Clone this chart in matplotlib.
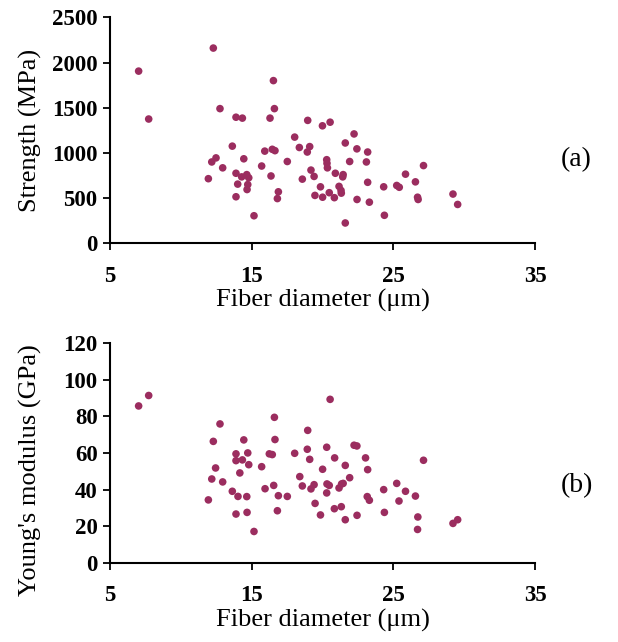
import matplotlib
matplotlib.use('Agg')
import matplotlib.pyplot as plt

plt.rcParams['font.family'] = ['Liberation Serif', 'DejaVu Serif']

# panel (a): fiber diameter (um) vs strength (MPa)
diam_a = [12.29, 7.02, 7.73, 16.53, 12.76, 16.6, 13.89, 14.34, 16.29, 13.63,
          15.92, 16.45, 16.64, 17.51, 12.48, 12.18, 14.44, 12.95, 15.7, 11.94,
          13.89, 16.36, 14.29, 14.65, 14.79, 14.01, 14.72, 14.67, 16.88, 13.89,
          16.81, 15.16,
          18.95, 19.99, 20.53, 18.03, 22.22, 18.36, 19.09, 18.92, 21.6, 22.42,
          23.18, 20.29, 20.31, 20.34, 21.91, 23.09, 19.18, 19.4, 18.57, 20.9,
          21.45, 21.42, 27.12, 25.85, 23.18, 26.55, 19.85, 21.16, 24.31, 25.23,
          25.41, 21.3, 21.32, 19.46, 20.0, 20.47, 20.83, 22.43, 23.3, 26.7,
          26.74, 29.2, 29.53, 24.36, 21.6]
strength = [2160, 1905, 1375, 1800, 1490, 1490, 1395, 1385, 1385, 1075,
            1020, 1040, 1025, 905, 945, 900, 935, 835, 855, 715,
            775, 745, 735, 760, 725, 655, 650, 595, 570, 515,
            495, 305,
            1360, 1300, 1340, 1175, 1210, 1060, 1070, 1010, 1110, 1045,
            1010, 925, 885, 835, 905, 900, 810, 740, 710, 775,
            760, 735, 860, 765, 675, 680, 625, 630, 625, 640,
            620, 585, 555, 530, 510, 560, 505, 485, 455, 510,
            485, 545, 430, 310, 225]

# panel (b): fiber diameter (um) vs Young's modulus (GPa)
diam_b = [7.73, 7.02, 12.76, 16.6, 12.29, 14.44, 16.64, 13.89, 14.72, 16.24,
          16.45, 13.89, 14.34, 14.79, 15.7, 14.16, 12.45, 12.18, 12.95, 15.94,
          16.55, 13.63, 14.03, 14.65, 16.88, 17.51, 11.94, 13.89, 14.67, 16.81,
          15.16,
          20.53, 18.95, 18.03, 18.92, 20.29, 22.22, 22.42, 19.09, 20.85, 23.03,
          27.12, 20.0, 21.6, 23.18, 18.39, 21.91, 18.57, 19.4, 19.18, 20.31,
          20.47, 21.16, 21.34, 21.45, 20.29, 24.31, 25.23, 25.85, 26.55, 25.39,
          23.15, 23.3, 19.47, 19.85, 20.83, 21.32, 21.6, 22.43, 24.36, 26.72,
          26.7, 29.2, 29.53]
modulus = [91.3, 85.6, 75.8, 79.4, 66.3, 67.1, 67.3, 59.5, 60.0, 59.5,
           59.1, 55.8, 56.2, 53.6, 52.5, 49.1, 51.8, 45.8, 44.2, 40.5,
           42.3, 39.1, 36.3, 36.2, 36.7, 36.3, 34.4, 26.7, 27.6, 28.5,
           17.2,
           89.2, 72.3, 59.8, 62.0, 63.1, 64.2, 63.8, 56.5, 57.3, 57.3,
           56.0, 51.1, 53.2, 50.9, 47.1, 46.5, 42.0, 42.7, 40.4, 43.1,
           42.3, 40.9, 43.1, 43.4, 38.2, 40.0, 43.4, 39.1, 36.5, 33.8,
           36.2, 34.2, 32.5, 26.2, 29.6, 30.7, 23.6, 26.0, 27.6, 25.1,
           18.3, 21.6, 23.6]

x_ticks = [5, 15, 25, 35]
color = '#9b2d5f'

fig = plt.figure(figsize=(6.18, 6.42), dpi=100)
ax1 = fig.add_axes([0.178, 0.621, 0.688, 0.352])
ax2 = fig.add_axes([0.178, 0.123, 0.688, 0.343])

panels = [
    (ax1, diam_a, strength, 'Strength (MPa)', [0, 500, 1000, 1500, 2000, 2500], '(a)', 0.37, 0.5),
    (ax2, diam_b, modulus, "Young's modulus (GPa)", [0, 20, 40, 60, 80, 100, 120], '(b)', 0.35, 0.42),
]

for ax, xs, ys, ylab, yt, tag, tag_y, ylab_y in panels:
    ax.scatter(xs, ys, s=30, c=color, edgecolors='none', zorder=3)
    ax.set_xlim(5, 35)
    ax.set_ylim(yt[0], yt[-1])
    ax.set_xticks(x_ticks)
    ax.set_yticks(yt)
    ax.spines['top'].set_visible(False)
    ax.spines['right'].set_visible(False)
    for s in ('left', 'bottom'):
        ax.spines[s].set_linewidth(1.5)
    ax.tick_params(direction='out', length=5, width=1.3, labelsize=16.5)
    ax.tick_params(axis='x', pad=11)
    ax.tick_params(axis='y', pad=4)
    for lab in ax.get_xticklabels() + ax.get_yticklabels():
        lab.set_fontweight('bold')
    ax.set_xlabel('Fiber diameter (\u03bcm)', fontsize=19, labelpad=2)
    ax.set_ylabel(ylab, fontsize=19)
    ax.yaxis.set_label_coords(-0.16, ylab_y)
    ax.text(1.06, tag_y, tag, transform=ax.transAxes, fontsize=20,
            ha='left', va='center')

fig.savefig('out.png', dpi=100)
